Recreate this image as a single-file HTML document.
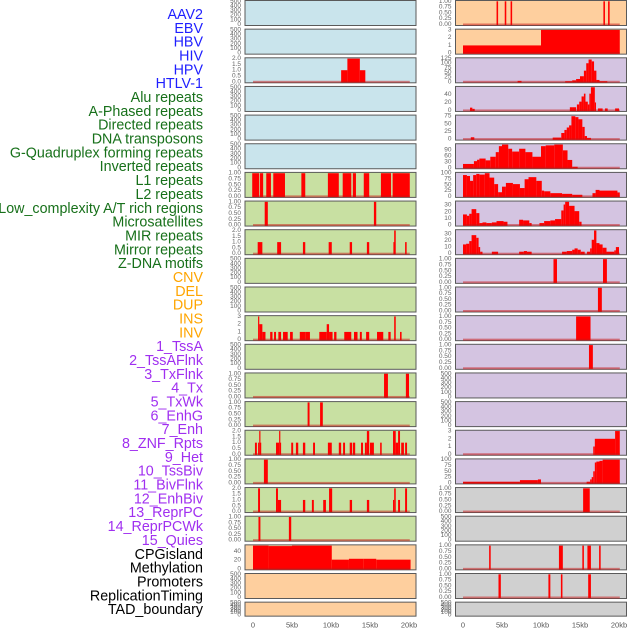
<!DOCTYPE html>
<html><head><meta charset="utf-8"><style>
html,body{margin:0;padding:0;background:#fff;width:630px;height:630px;overflow:hidden}
svg{display:block}
.lbl{font-family:"Liberation Sans",sans-serif;font-size:14.3px}
.tk{font-family:"Liberation Sans",sans-serif;font-size:6.5px;fill:#666}
.xt{font-family:"Liberation Sans",sans-serif;font-size:7.5px;fill:#555}
</style></head><body>
<svg id="chart" width="630" height="630" viewBox="0 0 630 630"></svg>
<script>
// ---- label data ----
const trackLabels = ["AAV2","EBV","HBV","HIV","HPV","HTLV-1","Alu repeats","A-Phased repeats","Directed repeats","DNA transposons","G-Quadruplex forming repeats","Inverted repeats","L1 repeats","L2 repeats","Low_complexity A/T rich regions","Microsatellites","MIR repeats","Mirror repeats","Z-DNA motifs","CNV","DEL","DUP","INS","INV","1_TssA","2_TssAFlnk","3_TxFlnk","4_Tx","5_TxWk","6_EnhG","7_Enh","8_ZNF_Rpts","9_Het","10_TssBiv","11_BivFlnk","12_EnhBiv","13_ReprPC","14_ReprPCWk","15_Quies","CPGisland","Methylation","Promoters","ReplicationTiming","TAD_boundary"];
const labelColors = ["#1f1fff","#1f1fff","#1f1fff","#1f1fff","#1f1fff","#1f1fff","#17701a","#17701a","#17701a","#17701a","#17701a","#17701a","#17701a","#17701a","#17701a","#17701a","#17701a","#17701a","#17701a","#ffa500","#ffa500","#ffa500","#ffa500","#ffa500","#a02ff0","#a02ff0","#a02ff0","#a02ff0","#a02ff0","#a02ff0","#a02ff0","#a02ff0","#a02ff0","#a02ff0","#a02ff0","#a02ff0","#a02ff0","#a02ff0","#a02ff0","#000","#000","#000","#000","#000"];
const xTickValues = [0,5,10,15,20];
const xTickLabels = ["0","5kb","10kb","15kb","20kb"];

// ---- tick sets ----
const ticksEmpty = [0,100,200,300,400,500];
const ticks01 = [0,0.25,0.5,0.75,1];
const ticks02 = [0,0.5,1,1.5,2];
const ticks03 = [0,1,2,3];

// ---- series (start kb, end kb, value) ----
const L_hbv = [[11.3,12.1,1],[12.1,13.7,2],[13.7,14.4,1]];
const L_row6 = [[-0.1,0.8,1],[0.9,1.3,1],[1.7,2.3,1],[2.6,4.1,1],[6.2,6.7,1],[9.6,11.0,1],[11.5,12.6,1],[12.8,13.2,1],[14.2,14.9,1],[16.4,17.7,1],[17.9,20.1,1]];
const L_row7 = [[1.5,1.9,1],[15.5,15.8,1]];
const L_row8 = [[0.6,1.2,1],[3.1,3.6,1],[6.4,6.7,1],[9.7,10.1,1],[12.4,12.7,1],[14.6,14.9,1],[18.0,18.1,1],[18.1,18.3,2],[19.5,19.7,1]];
const L_row11 = [[0.65,0.8,3],[0.8,1.2,2],[1.2,1.6,1],[2.2,2.5,1],[2.7,2.95,1],[3.25,3.6,1],[3.85,4.45,1],[4.75,5.1,1],[6.0,6.7,1],[6.7,7.3,1],[8.5,9.45,1],[9.45,9.75,2],[9.75,10.2,1],[10.4,10.7,1],[11.7,12.6,1],[12.95,13.4,1],[13.7,13.95,1],[14.5,14.9,1],[15.9,16.7,1],[17.35,17.65,1],[18.1,18.3,3],[18.85,19.05,1]];
const L_row13 = [[16.8,17.3,1],[19.6,20.0,1]];
const L_row14 = [[7.0,7.25,1],[8.6,8.95,1]];
const L_row15 = [[0.25,0.5,1],[0.65,0.8,1],[0.8,0.9,2],[0.9,1.05,1],[2.95,3.35,1],[3.35,3.45,2],[3.45,3.6,1],[4.9,5.15,1],[5.5,5.8,1],[6.4,6.7,1],[7.7,7.95,1],[9.6,10.1,1],[11.0,11.3,1],[11.55,11.8,1],[12.4,12.7,1],[12.8,13.1,1],[13.85,14.1,1],[14.35,14.6,1],[14.6,14.9,2],[15.0,15.5,1],[16.3,16.5,1],[17.95,18.3,2],[18.3,18.6,1],[18.6,18.85,2],[19.0,19.35,1],[19.5,19.75,1]];
const L_row16 = [[1.4,1.9,1]];
const L_row17 = [[0.65,0.9,2],[2.95,3.2,2],[3.2,3.6,1],[6.4,6.7,1],[7.55,7.8,1],[9.0,9.35,1],[9.75,10.15,2],[12.4,12.7,1],[14.6,14.9,1],[17.95,18.1,1],[18.1,18.3,2],[18.6,18.85,1],[19.5,19.75,2]];
const L_row18 = [[0.7,0.95,1],[4.6,4.9,1]];
const L_cpg = [[0,2.0,53],[2.0,5.0,52],[5.0,10.1,53],[10.1,12.3,21],[12.3,14.2,23],[14.2,15.8,23],[15.8,20.2,21]];

const R_row0 = [[4.3,4.5,1],[5.35,5.55,1],[6.1,6.3,1],[18.0,18.2,1],[18.6,18.8,1]];
const R_row1 = [[0,10.0,1],[10.0,20.1,3]];
const R_row2 = [[7.0,7.5,5],[13.1,14.0,3],[14.0,14.5,8],[14.5,15.0,15],[15.0,15.5,30],[15.5,15.8,60],[15.8,16.1,100],[16.1,16.5,120],[16.5,16.8,110],[16.8,17.1,60],[17.1,17.5,10],[17.5,18.5,3]];
const R_row3 = [[0.9,1.2,7],[1.2,1.5,4],[13.7,14.1,8],[14.1,14.5,8],[14.6,14.9,15],[14.9,15.2,22],[15.2,15.5,35],[15.5,15.7,42],[15.7,16.0,22],[16.0,16.2,15],[16.2,16.4,42],[16.4,16.9,58],[16.9,17.0,20],[17.3,17.9,5],[18.2,18.55,5],[19.5,20.0,5]];
const R_row4 = [[1.0,1.45,6],[11.5,12.6,5],[12.6,13.0,20],[13.0,13.3,30],[13.3,13.6,38],[13.6,13.9,45],[13.9,14.4,75],[14.4,14.8,72],[14.8,15.3,65],[15.3,15.6,40],[15.6,15.9,10],[15.9,16.4,4]];
const R_row5 = [[0,1.4,19],[1.4,1.8,33],[1.8,2.1,40],[2.1,2.9,46],[2.9,3.5,37],[3.5,4.2,55],[4.2,4.6,78],[4.6,5.0,108],[5.0,5.8,116],[5.8,6.3,95],[6.3,7.2,81],[7.2,8.0,95],[8.0,8.9,78],[8.9,10.0,55],[10.0,10.6,108],[10.6,11.7,112],[11.7,12.8,116],[12.8,13.4,87],[13.4,14.0,39],[14.0,14.7,5]];
const R_row6 = [[0,0.5,92],[0.5,0.9,88],[0.9,1.3,67],[1.3,1.7,92],[1.7,2.1,97],[2.1,2.8,94],[2.8,3.4,100],[3.4,4.0,81],[4.0,4.5,53],[4.5,5.0,18],[5.0,5.5,42],[5.5,6.4,58],[6.4,7.3,53],[7.3,7.9,36],[7.9,8.4,74],[8.4,9.4,83],[9.4,10.1,67],[10.1,10.4,25],[10.4,11.2,22],[11.2,12.7,14],[12.7,14.0,11],[14.0,15.3,7],[16.6,17.0,14],[17.0,17.5,28],[17.5,19.8,25],[19.8,20.1,17]];
const R_row7 = [[0,0.5,16],[0.5,0.8,14],[0.8,1.1,17],[1.1,1.7,24],[1.7,2.1,18],[2.1,2.5,3],[2.5,3.0,4],[3.0,3.7,3],[3.7,4.3,4],[4.3,5.2,6],[5.2,5.7,5],[7.2,7.7,8],[7.7,8.5,7],[8.5,8.8,3],[9.8,10.4,3],[10.4,11.2,6],[11.2,11.8,7],[11.8,12.6,9],[12.6,12.9,22],[12.9,13.1,31],[13.1,13.6,35],[13.6,14.3,29],[14.3,14.9,21],[14.9,15.2,5]];
const R_row8 = [[0,0.4,14],[0.4,0.8,15],[0.8,1.1,19],[1.1,1.7,28],[1.7,2.0,24],[2.0,2.2,10],[2.2,2.5,3],[3.7,4.5,3],[7.2,7.8,3],[7.8,8.2,4],[8.2,8.8,3],[12.7,13.3,3],[13.3,14.0,4],[14.0,14.3,6],[14.3,14.7,8],[14.7,15.1,6],[15.1,15.6,3],[15.9,16.3,3],[16.3,16.5,8],[16.5,16.8,21],[16.8,17.1,35],[17.1,17.5,16],[17.5,17.9,14],[17.9,18.4,9],[18.4,19.4,3],[19.4,19.6,5],[19.6,20.0,10]];
const R_row9 = [[11.6,12.05,1],[17.95,18.45,1]];
const R_row10 = [[17.3,17.8,1]];
const R_row11 = [[14.5,16.35,1]];
const R_row12 = [[16.15,16.65,1]];
const R_row15 = [[16.7,16.9,1],[16.9,19.5,2],[19.5,20.1,3]];
const R_row16 = [[0,7.3,5],[7.3,9.6,12],[9.6,10.0,15],[15.85,16.3,5],[16.3,16.5,15],[16.5,16.7,25],[16.7,16.9,50],[16.9,17.1,88],[17.1,17.5,92],[17.5,17.9,95],[17.9,20.1,100]];
const R_row17 = [[15.4,16.25,1]];
const R_row19 = [[3.35,3.55,1],[12.3,12.8,1],[15.3,15.5,1],[15.95,16.4,1],[17.45,17.65,1]];
const R_row20 = [[4.55,4.85,1],[10.95,11.2,1],[12.55,12.75,1],[16.05,16.4,1]];

const BLUE="#c9e4ec", GREEN="#c8e0a2", ORANGE="#fecf9e", PURPLE="#d4c4e1", GRAY="#d0d0d0";
// col, row, bg, vmax, ticks, tick decimals, series
const panels = [
 [0,0,BLUE,500,ticksEmpty,0,null],[0,1,BLUE,500,ticksEmpty,0,null],[0,2,BLUE,2,ticks02,1,L_hbv],
 [0,3,BLUE,500,ticksEmpty,0,null],[0,4,BLUE,500,ticksEmpty,0,null],[0,5,BLUE,500,ticksEmpty,0,null],
 [0,6,GREEN,1,ticks01,2,L_row6],[0,7,GREEN,1,ticks01,2,L_row7],[0,8,GREEN,2,ticks02,1,L_row8],
 [0,9,GREEN,500,ticksEmpty,0,null],[0,10,GREEN,500,ticksEmpty,0,null],[0,11,GREEN,3,ticks03,0,L_row11],
 [0,12,GREEN,500,ticksEmpty,0,null],[0,13,GREEN,1,ticks01,2,L_row13],[0,14,GREEN,1,ticks01,2,L_row14],
 [0,15,GREEN,2,ticks02,1,L_row15],[0,16,GREEN,1,ticks01,2,L_row16],[0,17,GREEN,2,ticks02,1,L_row17],
 [0,18,GREEN,1,ticks01,2,L_row18],[0,19,ORANGE,53,[0,20,40],0,L_cpg],[0,20,ORANGE,500,ticksEmpty,0,null],
 [0,21,ORANGE,500,ticksEmpty,0,null],
 [1,0,ORANGE,1,ticks01,2,R_row0],[1,1,ORANGE,3,ticks03,0,R_row1],[1,2,PURPLE,125,[0,25,50,75,100,125],0,R_row2],
 [1,3,PURPLE,58,[0,20,40],0,R_row3],[1,4,PURPLE,76,[0,25,50,75],0,R_row4],[1,5,PURPLE,116,[0,30,60,90],0,R_row5],
 [1,6,PURPLE,100,[0,25,50,75,100],0,R_row6],[1,7,PURPLE,35,[0,10,20,30],0,R_row7],[1,8,PURPLE,35,[0,10,20,30],0,R_row8],
 [1,9,PURPLE,1,ticks01,2,R_row9],[1,10,PURPLE,1,ticks01,2,R_row10],[1,11,PURPLE,1,ticks01,2,R_row11],
 [1,12,PURPLE,1,ticks01,2,R_row12],[1,13,PURPLE,500,ticksEmpty,0,null],[1,14,PURPLE,500,ticksEmpty,0,null],
 [1,15,PURPLE,3,ticks03,0,R_row15],[1,16,PURPLE,100,[0,25,50,75,100],0,R_row16],[1,17,GRAY,1,ticks01,2,R_row17],
 [1,18,GRAY,500,ticksEmpty,0,null],[1,19,GRAY,1,ticks01,2,R_row19],[1,20,GRAY,1,ticks01,2,R_row20],
 [1,21,GRAY,500,ticksEmpty,0,null]
];

const NS="http://www.w3.org/2000/svg";
const svg=document.getElementById('chart');
function mk(tag,attrs,parent){const e=document.createElementNS(NS,tag);for(const k in attrs)e.setAttribute(k,attrs[k]);(parent||svg).appendChild(e);return e;}
const colGeom=[{px0:245,px1:416,x0:253,tickX:241},{px0:455.5,px1:626.5,x0:463,tickX:451.5}];
const kbPx=7.8;
function xScale(col,kb){return colGeom[col].x0+kb*kbPx;}
function rowTop(r){return r*28.65+0.5;}
function rowH(r){return r===21?14:25;}
function yScale(r,vmax,v){const t=rowTop(r),h=rowH(r);const v2=Math.min(v,vmax);return (t+h-1)-v2/vmax*(h-1.8);}

// labels
trackLabels.forEach((s,i)=>{
  const t=mk('text',{x:203,y:15+i*13.84,'text-anchor':'end','dominant-baseline':'central',class:'lbl',fill:labelColors[i]});
  t.textContent=s;
  
  
});

panels.forEach(p=>{
  const [col,row,bg,vmax,ticks,dec,series]=p;
  const g=colGeom[col];const top=rowTop(row),h=rowH(row);
  const grp=mk('g',{});
  
  
  const r=mk('rect',{x:g.px0,y:top,width:g.px1-g.px0,height:h,fill:bg,stroke:'#5a5a5a','stroke-width':1},grp);
  
  
  ticks.forEach(v=>{
    const t=mk('text',{x:g.tickX,y:yScale(row,vmax,v),'text-anchor':'end','dominant-baseline':'central',class:'tk'},grp);
    t.textContent=v.toFixed(dec);
    
    
  });
  if(series){
    const y0=yScale(row,vmax,0);
    series.forEach(s=>{
      const x1=xScale(col,s[0]),x2=xScale(col,s[1]),y=yScale(row,vmax,s[2]);
      const b=mk('rect',{x:x1,y:y,width:Math.max(1.2,x2-x1),height:Math.max(0,y0-y+0.6),fill:'#ff0000'},grp);
      
      
    });
    const bl=mk('rect',{x:xScale(col,0),y:y0-1,width:xScale(col,20.1)-xScale(col,0),height:2,fill:'rgba(200,20,20,0.5)'},grp);
    
    
  }
});

[0,1].forEach(col=>{
  xTickValues.forEach((v,i)=>{
    const t=mk('text',{x:xScale(col,v),y:625,'text-anchor':'middle','dominant-baseline':'central',class:'xt'});
    t.textContent=xTickLabels[i];
    
    
  });
});
</script>
</body></html>
